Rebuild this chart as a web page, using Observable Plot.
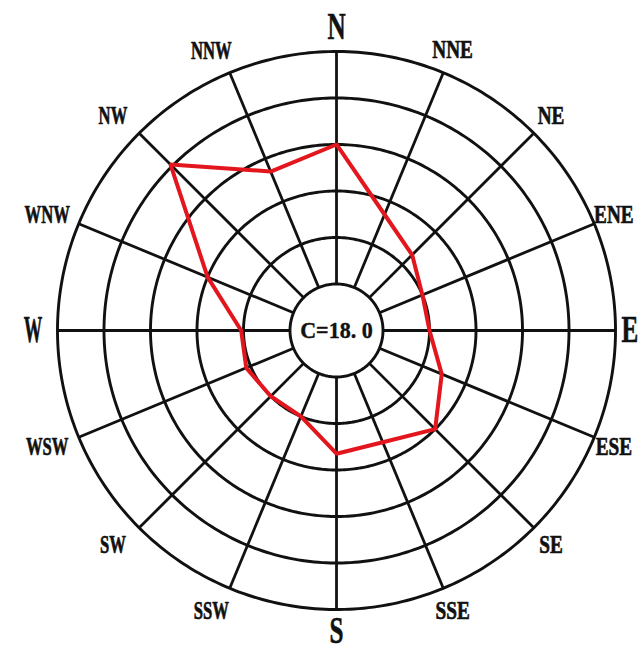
<!DOCTYPE html>
<html>
<head>
<meta charset="utf-8">
<script src="https://cdn.jsdelivr.net/npm/d3@7"></script>
<script src="https://cdn.jsdelivr.net/npm/@observablehq/plot@0.6"></script>
<style>
  html, body { margin: 0; padding: 0; background: #fff; }
  #chart svg { display: block; }
</style>
</head>
<body>
<div id="chart"></div>
<script>
// Wind direction frequency (%) for the 16 compass points, clockwise from north
const directions = ["N", "NNE", "NE", "ENE", "E", "ESE", "SE", "SSE",
                    "S", "SSW", "SW", "WSW", "W", "WNW", "NW", "NNW"];
const frequency = [8.0, 5.4, 4.6, 4.0, 4.0, 4.9, 6.0, 5.2,
                   5.3, 4.0, 4.0, 4.2, 4.1, 6.0, 10.1, 7.4];
// Grid circles (%); the innermost one holds the calm frequency
const rings = [2, 4, 6, 8, 10, 12];
const calm = 18.0;
const cardinals = ["N", "E", "S", "W"];

const records = directions.map((d, i) => ({direction: d, value: frequency[i]}));

// Polar layout on an azimuthal projection centred on the pole:
// longitude carries the compass bearing, colatitude carries the frequency.
const deg = 0.05;                       // degrees of arc per percent
const bearing = (d) => directions.indexOf(d) * 22.5;
const lon = (d) => 180 - bearing(d);
const lat = (v) => 90 - v * deg;
const labelR = 13.05;
const labelShift = (d) => {
  if (d === "E") return [-10, 0];
  if (d === "S") return [0, -3];
  if (d === "ENE" || d === "ESE") return [-3, 0];
  const b = bearing(d);
  return [b > 180 && b !== 270 ? -9 : 0, 0];
};
// horizontal squeeze of the narrow label lettering
const squeeze = (d) => {
  if (d === "W") return 0.5;
  if (cardinals.includes(d)) return 0.68;
  if (directions.includes(d)) return d.includes("W") ? 0.64 : 0.74;
  return 0.92;
};

const outer = d3.max(rings);
const frame = 300;                      // half side of the square frame (px)
const radiusPx = 279;                   // pixel radius of the outer ring
const cx = 336, cy = 330;

const labelFont = "Liberation Serif";

const chart = Plot.plot({
  width: 640,
  height: 650,
  marginLeft: cx - frame,
  marginRight: 640 - cx - frame,
  marginTop: cy - frame,
  marginBottom: 650 - cy - frame,
  projection: {
    type: "azimuthal-equidistant",
    rotate: [0, -90],
    clip: false,
    domain: d3.geoCircle().center([0, 90]).radius(outer * deg * frame / radiusPx)()
  },
  marks: [
    Plot.geo(rings, {
      geometry: (r) => d3.geoCircle().center([0, 90]).radius(r * deg).precision(1)(),
      fill: "none",
      stroke: "#111",
      strokeWidth: 2.9
    }),
    Plot.link(directions, {
      x1: lon, y1: lat(rings[0]),
      x2: lon, y2: lat(outer),
      stroke: "#111",
      strokeWidth: 2.8
    }),
    Plot.line(records, {
      x: (d) => lon(d.direction),
      y: (d) => lat(d.value),
      curve: "linear-closed",
      stroke: "#e3161d",
      strokeWidth: 4,
      strokeLinejoin: "miter"
    }),
    Plot.text(directions.filter((d) => !cardinals.includes(d)), {
      x: lon,
      y: lat(labelR),
      text: (d) => d,
      fontFamily: labelFont,
      fontWeight: "bold",
      fontSize: 26,
      fill: "#111",
      stroke: "#111",
      strokeWidth: 0.7
    }),
    Plot.text(cardinals, {
      x: lon,
      y: lat(labelR),
      text: (d) => d,
      fontFamily: labelFont,
      fontWeight: "bold",
      fontSize: 37,
      fill: "#111",
      stroke: "#111",
      strokeWidth: 0.6
    }),
    Plot.text([calm], {
      x: 0,
      y: 90,
      text: (d) => "C=" + d.toFixed(1).replace(".", ". "),
      fontFamily: labelFont,
      fontWeight: "bold",
      fontSize: 24,
      fill: "#111",
      stroke: "#111",
      strokeWidth: 0.4
    })
  ]
});

// Narrow serif lettering for the compass labels
chart.querySelectorAll("text").forEach((t) => {
  const name = t.textContent;
  if (!directions.includes(name) && !name.startsWith("C=")) return;
  const sx = squeeze(name);
  const [dx, dy] = directions.includes(name) ? labelShift(name) : [0, 0];
  let tr = t.getAttribute("transform");
  if (!tr) {
    const x = +t.getAttribute("x") || 0, y = +t.getAttribute("y") || 0;
    t.removeAttribute("x");
    t.removeAttribute("y");
    tr = `translate(${x},${y})`;
  }
  t.setAttribute("transform", `translate(${dx},${dy}) ${tr} scale(${sx},1)`);
});

document.getElementById("chart").append(chart);
</script>
</body>
</html>
